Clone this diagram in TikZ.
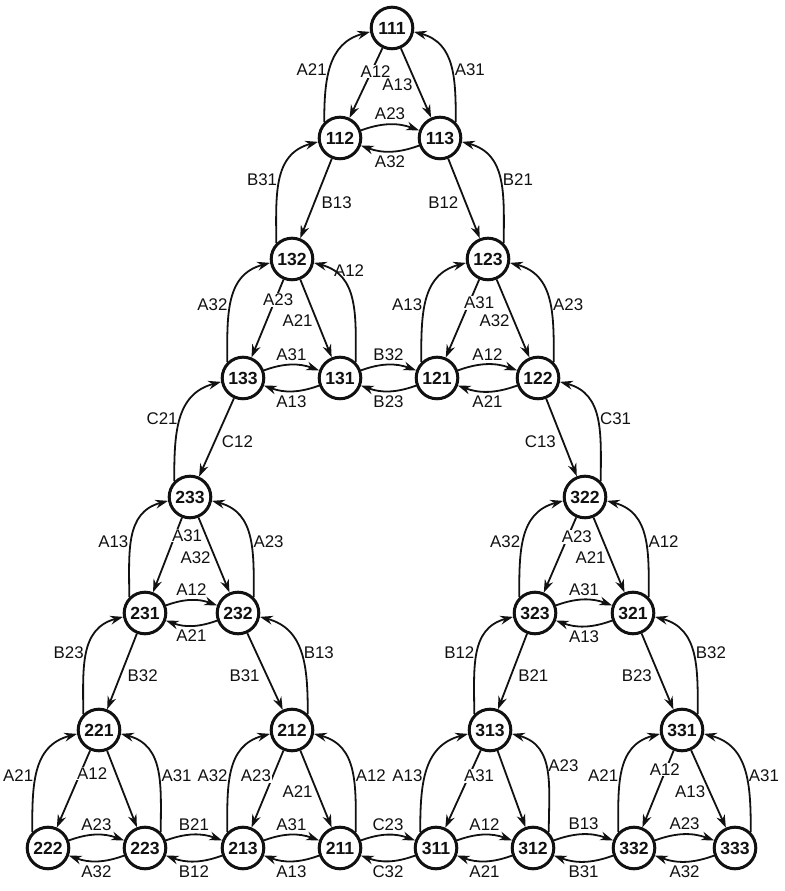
\documentclass[tikz,border=0pt]{standalone}
\usepackage{fontspec}
\setmainfont{Liberation Sans}
\usetikzlibrary{arrows.meta}
\definecolor{Ink}{HTML}{111111}

\tikzset{
  st/.style={circle,draw=Ink,line width=0.75mm,minimum size=10.4mm,inner sep=0pt,
    font=\fontsize{12.5}{14}\selectfont\bfseries,text=Ink},
  mv/.style={draw=Ink,line width=0.45mm,-{Stealth[length=3.2mm,width=2.2mm]}},
  lbl/.style={font=\fontsize{12}{14}\selectfont,text=Ink,inner sep=1.5pt},
  lblon/.style={lbl,fill=white,inner sep=0.5pt},
  arcl/.style={out=90,in=195,looseness=1.1},
  arcr/.style={out=90,in=-15,looseness=1.1},
}

\begin{document}
\begin{tikzpicture}[x=0.25mm,y=0.25mm]
        \useasboundingbox (0,0) rectangle (784,891);
        % states
        \foreach \n/\x/\y in {111/392/863,112/340/753,113/440/753,132/292/632,123/488/632,
          133/243/513,131/340/513,121/437/513,122/538/513,233/190/394,322/585/394,
          231/145/278,232/238/278,323/535/278,321/633/278,
          221/99/161,212/292/161,313/490/161,331/682/161,
          222/48/43,223/145/43,213/243/43,211/340/43,311/436/43,312/533/43,332/634/43,333/735/43}
          \node[st] (s\n) at (\x,\y) {\n};
        % small triangles: top, left, right, then the six moves
        \foreach \na/\nb/\nc/\mtl/\mtr/\mlt/\mrt/\mlr/\mrl/\sh/\pt/\ps in {
          111/112/113/A12/A13/A21/A31/A23/A32/4/0.33/0.45,
          132/133/131/A23/A21/A32/A12/A31/A13/3/0.26/0.85,
          123/121/122/A31/A32/A13/A23/A12/A21/10/0.3/0.45,
          233/231/232/A31/A32/A13/A23/A12/A21/12/0.24/0.45,
          322/323/321/A23/A21/A32/A12/A31/A13/9/0.26/0.45,
          221/222/223/A12//A21/A31/A23/A32/12/0.3/0.45,
          212/213/211/A23/A21/A32/A12/A31/A13/-17/0.33/0.45,
          313/311/312/A31//A13/A23/A12/A21/10/0.33/0.55,
          331/332/333/A12/A13/A21/A31/A23/A32/-1/0.25/0.45}{
          \draw[mv] (s\na) -- node[lblon,pos=\pt,xshift=\sh*0.25mm] {\mtl} (s\nb);
          \draw[mv] (s\na) -- node[lbl,pos=0.53,left=1pt] {\mtr} (s\nc);
          \draw[mv] (s\nb.135) to[arcl] node[lbl,pos=0.45,left] {\mlt} (s\na.190);
          \draw[mv] (s\nc.45) to[arcr] node[lbl,pos=\ps,right] {\mrt} (s\na.350);
          \draw[mv] (s\nb) to[bend left=20] node[lbl,above=1pt] {\mlr} (s\nc);
          \draw[mv] (s\nc) to[bend left=20] node[lbl,below=1pt] {\mrl} (s\nb);
        }
        % links between triangles
        \foreach \na/\nb/\mab/\mba in {112/132/B13/B31,133/233/C12/C21,231/221/B32/B23,323/313/B21/B12}{
          \draw[mv] (s\na) -- node[lbl,pos=0.55,right=3pt] {\mab} (s\nb);
          \draw[mv] (s\nb.135) to[arcl] node[lbl,pos=0.5,left] {\mba} (s\na.190);
        }
        \foreach \na/\nb/\mab/\mba in {113/123/B12/B21,122/322/C13/C31,232/212/B31/B13,321/331/B23/B32}{
          \draw[mv] (s\na) -- node[lbl,pos=0.55,left=3pt] {\mab} (s\nb);
          \draw[mv] (s\nb.45) to[arcr] node[lbl,pos=0.5,right] {\mba} (s\na.350);
        }
        \foreach \na/\nb/\mab/\mba in {131/121/B32/B23,211/311/C23/C32,223/213/B21/B12,312/332/B13/B31}{
          \draw[mv] (s\na) to[bend left=20] node[lbl,above=1pt] {\mab} (s\nb);
          \draw[mv] (s\nb) to[bend left=20] node[lbl,below=1pt] {\mba} (s\na);
        }
      \end{tikzpicture}
\end{document}
